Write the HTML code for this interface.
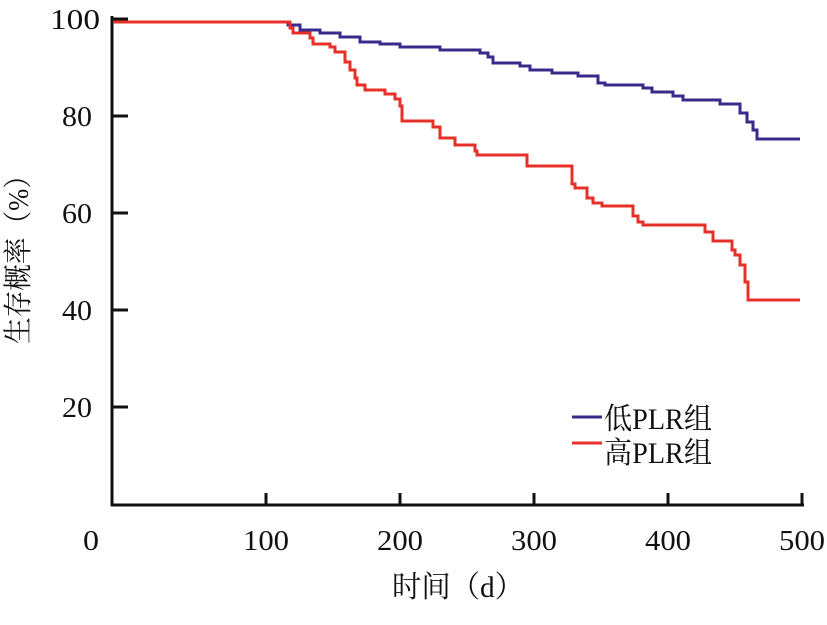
<!DOCTYPE html>
<html><head><meta charset="utf-8"><style>
body{margin:0;background:#fff}
svg text{font-family:"Liberation Serif","Noto Serif CJK SC",serif;fill:#111}
</style></head><body>
<svg width="827" height="620" viewBox="0 0 827 620" xmlns="http://www.w3.org/2000/svg">
<g stroke="#111" stroke-width="3" fill="none">
<line x1="112" y1="16" x2="112" y2="506"/>
<line x1="111" y1="505" x2="804" y2="505"/>
<line x1="112" y1="19" x2="128" y2="19"/>
<line x1="112" y1="116" x2="128" y2="116"/>
<line x1="112" y1="213" x2="128" y2="213"/>
<line x1="112" y1="310" x2="128" y2="310"/>
<line x1="112" y1="407" x2="128" y2="407"/>
<line x1="266" y1="493" x2="266" y2="505"/>
<line x1="400" y1="493" x2="400" y2="505"/>
<line x1="534" y1="493" x2="534" y2="505"/>
<line x1="668" y1="493" x2="668" y2="505"/>
<line x1="802" y1="493" x2="802" y2="505"/>
</g>
<g font-size="29">
<text x="50" y="29" textLength="50" lengthAdjust="spacingAndGlyphs">100</text>
<text x="62" y="126" textLength="30" lengthAdjust="spacingAndGlyphs">80</text>
<text x="62" y="223" textLength="30" lengthAdjust="spacingAndGlyphs">60</text>
<text x="62" y="320" textLength="30" lengthAdjust="spacingAndGlyphs">40</text>
<text x="62" y="417" textLength="30" lengthAdjust="spacingAndGlyphs">20</text>
<text x="83" y="550" textLength="16" lengthAdjust="spacingAndGlyphs">0</text>
<text x="243" y="550" textLength="46" lengthAdjust="spacingAndGlyphs">100</text>
<text x="377" y="550" textLength="46" lengthAdjust="spacingAndGlyphs">200</text>
<text x="511" y="550" textLength="46" lengthAdjust="spacingAndGlyphs">300</text>
<text x="645" y="550" textLength="46" lengthAdjust="spacingAndGlyphs">400</text>
<text x="779" y="550" textLength="46" lengthAdjust="spacingAndGlyphs">500</text>
</g>
<text x="392" y="597" font-size="30" textLength="132" lengthAdjust="spacingAndGlyphs">时间（d）</text>
<text transform="translate(28,253) rotate(-90)" font-size="29" text-anchor="middle" textLength="182" lengthAdjust="spacingAndGlyphs">生存概率（%）</text>
<polyline fill="none" stroke="#3b2a8c" stroke-width="3" points="113,22 288,22 288,25 300,25 300,30 320,30 320,33 340,33 340,37 360,37 360,42 380,42 380,44 400,44 400,47 440,47 440,50 480,50 480,53 488,53 488,57 493,57 493,63 520,63 520,66 530,66 530,70 552,70 552,73 578,73 578,76 598,76 598,83 605,83 605,85 643,85 643,88 652,88 652,92 673,92 673,96 683,96 683,100 720,100 720,104 740,104 740,113 747,113 747,122 753,122 753,130 757,130 757,139 800,139"/>
<polyline fill="none" stroke="#e8302a" stroke-width="3" points="113,22 290,22 290,28 293,28 293,33 310,33 310,38 313,38 313,44 330,44 330,47 335,47 335,52 345,52 345,62 350,62 350,70 355,70 355,78 357,78 357,85 365,85 365,90 385,90 385,94 395,94 395,99 400,99 400,106 402,106 402,121 433,121 433,127 440,127 440,138 455,138 455,145 475,145 475,151 477,151 477,155 527,155 527,166 572,166 572,184 575,184 575,188 587,188 587,198 593,198 593,203 602,203 602,206 633,206 633,216 638,216 638,222 643,222 643,225 705,225 705,232 713,232 713,241 732,241 732,250 735,250 735,255 740,255 740,265 745,265 745,282 748,282 748,300 800,300"/>
<line x1="572" y1="417" x2="602" y2="417" stroke="#3b2a8c" stroke-width="3"/>
<line x1="572" y1="443" x2="602" y2="443" stroke="#e8302a" stroke-width="3"/>
<text x="604" y="429" font-size="30" textLength="108" lengthAdjust="spacingAndGlyphs">低PLR组</text>
<text x="604" y="463" font-size="30" textLength="108" lengthAdjust="spacingAndGlyphs">高PLR组</text>
</svg>
</body></html>
